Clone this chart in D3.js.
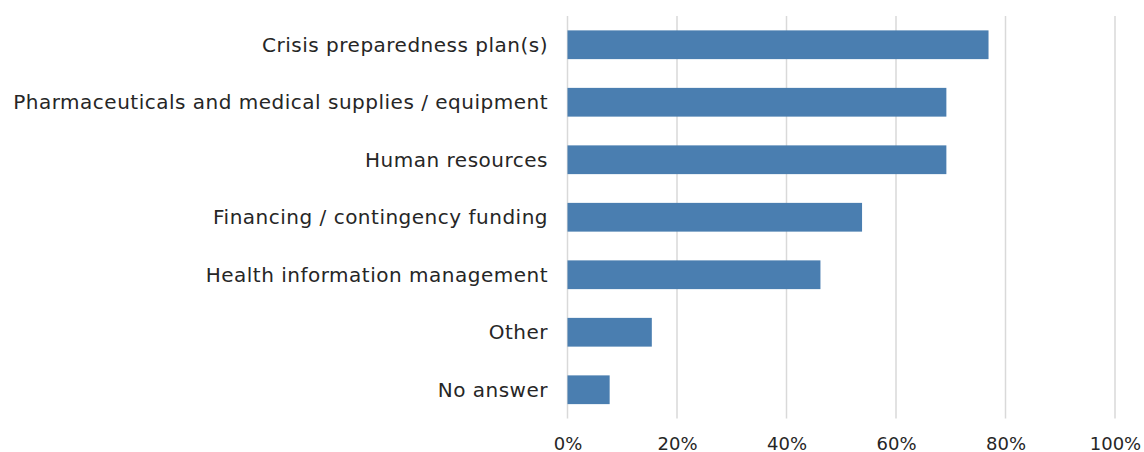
<!DOCTYPE html>
<html>
<head>
<meta charset="utf-8">
<script src="https://cdn.jsdelivr.net/npm/d3@7"></script>
<style>
  body { margin: 0; background: #fff; }
  text { font-family: "DejaVu Sans", sans-serif; fill: #262626; }
</style>
</head>
<body>
<script>
var width = 1144, height = 452;

var categories = ["Crisis preparedness plan(s)", "Pharmaceuticals and medical supplies / equipment",
    "Human resources", "Financing / contingency funding", "Health information management",
    "Other", "No answer"];
var values = [0.769, 0.692, 0.692, 0.538, 0.462, 0.154, 0.077];
var tickValues = [0, 0.2, 0.4, 0.6, 0.8, 1.0];

var svg = d3.select("body").append("svg")
    .attr("width", width)
    .attr("height", height);

var x = d3.scaleLinear().domain([0, 1]).range([567.5, 1115]);
var y = d3.scaleBand().domain(categories).range([16, 418.5]).paddingInner(0.5).paddingOuter(0.25);

// gridlines
svg.append("g").selectAll("line")
    .data(tickValues)
    .enter().append("line")
    .attr("x1", function(d) { return x(d); })
    .attr("x2", function(d) { return x(d); })
    .attr("y1", 16)
    .attr("y2", 418.5)
    .attr("stroke", "#d9d9d9")
    .attr("stroke-width", 1.5);

// bars
svg.append("g").selectAll("rect")
    .data(values)
    .enter().append("rect")
    .attr("x", x(0))
    .attr("y", function(d, i) { return y(categories[i]); })
    .attr("width", function(d) { return x(d) - x(0); })
    .attr("height", y.bandwidth())
    .attr("fill", "#4a7eb0");

// category labels
svg.append("g").selectAll("text")
    .data(categories)
    .enter().append("text")
    .attr("x", 548)
    .attr("y", function(d) { return y(d) + y.bandwidth() / 2; })
    .attr("dy", "0.35em")
    .attr("text-anchor", "end")
    .style("font-size", "20px")
    .style("letter-spacing", "0.5px")
    .text(function(d) { return d; });

// x tick labels
var xAxis = d3.axisBottom(x).tickValues(tickValues).tickFormat(d3.format(".0%")).tickSize(0).tickPadding(0);
var ax = svg.append("g").attr("transform", "translate(0,437)").call(xAxis);
ax.select(".domain").remove();
ax.selectAll("text").style("font-size", "18px").attr("fill", "#262626")
    .style("font-family", "DejaVu Sans, sans-serif");
</script>
</body>
</html>
